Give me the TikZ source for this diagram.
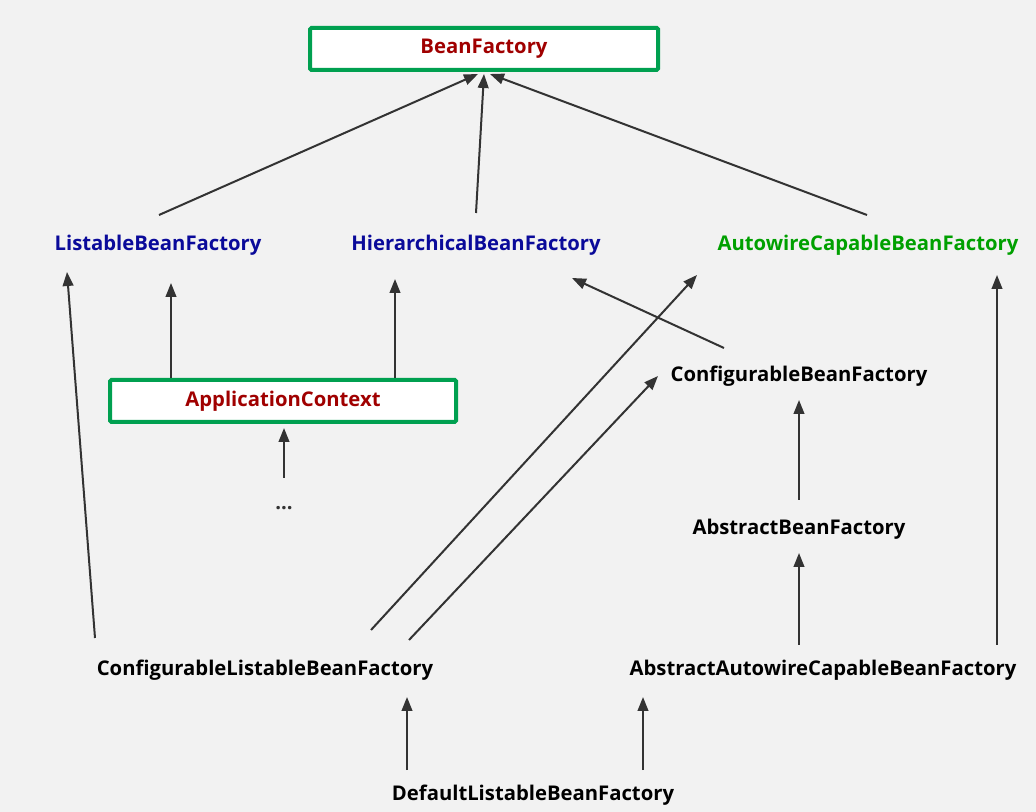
\documentclass[tikz,border=0pt]{standalone}
\usepackage{fontspec}
\setmainfont{Open Sans}
\usetikzlibrary{arrows.meta}
\definecolor{bgray}{HTML}{F2F2F2}
\definecolor{boxgreen}{HTML}{00A050}
\definecolor{clsred}{HTML}{A00000}
\definecolor{ifblue}{HTML}{0A0A9A}
\definecolor{ifgreen}{HTML}{00A000}
\definecolor{arrgray}{HTML}{333333}
\begin{document}
\begin{tikzpicture}[x=.75pt,y=-.75pt,
	cls/.style={font=\bfseries\fontsize{15.2}{18}\selectfont,inner sep=0pt},
	box/.style={cls,draw=boxgreen,line width=3pt,rounded corners=1pt,fill=white,minimum height=31.5pt},
	arr/.style={draw=arrgray,line width=1.5pt,-{Triangle[length=10.5pt,width=8pt]}}]
	\useasboundingbox[fill=bgray] (0,0) rectangle (1036,812);
	% boxes
	\node[box,text=clsred,minimum width=261pt] (bf) at (484,49) {BeanFactory};
	\node[box,text=clsred,minimum width=259.5pt] (ac) at (283,401) {ApplicationContext};
	% interfaces
	\node[cls,text=ifblue] (lbf) at (158,245) {ListableBeanFactory};
	\node[cls,text=ifblue] (hbf) at (476,245) {HierarchicalBeanFactory};
	\node[cls,text=ifgreen] (acbf) at (868,245) {AutowireCapableBeanFactory};
	\node[cls] (cbf) at (799,376) {ConfigurableBeanFactory};
	\node[cls] (abf) at (799,529) {AbstractBeanFactory};
	\node[cls] (clbf) at (265,670) {ConfigurableListableBeanFactory};
	\node[cls] (aacbf) at (823,670) {AbstractAutowireCapableBeanFactory};
	\node[cls] (dlbf) at (533,795) {DefaultListableBeanFactory};
	\node[cls,text=arrgray] (dots) at (284,508) {...};
	% ends of the arrows
	\path (159,215) coordinate (lbf-t) (478,74) coordinate (bf-l)
	(476,213) coordinate (hbf-t) (484,74) coordinate (bf-m)
	(867,215) coordinate (acbf-t) (490,74) coordinate (bf-r)
	(95,638) coordinate (clbf-l) (67,272) coordinate (lbf-b)
	(171,378) coordinate (ac-l) (171,283) coordinate (lbf-c)
	(395,378) coordinate (ac-r) (395,279) coordinate (hbf-c)
	(724,348) coordinate (cbf-t) (572,278) coordinate (hbf-r)
	(371,630) coordinate (clbf-m) (697,275) coordinate (acbf-l)
	(409,640) coordinate (clbf-r) (658,376) coordinate (cbf-l)
	(284,478) coordinate (dots-t) (284,428) coordinate (ac-b)
	(799,500) coordinate (abf-t) (799,400) coordinate (cbf-b)
	(799,645) coordinate (aacbf-m) (799,553) coordinate (abf-b)
	(997,645) coordinate (aacbf-r) (997,275) coordinate (acbf-b)
	(407,770) coordinate (dlbf-l) (407,697) coordinate (clbf-b)
	(643,770) coordinate (dlbf-r) (643,697) coordinate (aacbf-b);
	\foreach \s/\t in {lbf-t/bf-l,hbf-t/bf-m,acbf-t/bf-r,clbf-l/lbf-b,ac-l/lbf-c,ac-r/hbf-c,
		cbf-t/hbf-r,clbf-m/acbf-l,clbf-r/cbf-l,dots-t/ac-b,abf-t/cbf-b,aacbf-m/abf-b,
		aacbf-r/acbf-b,dlbf-l/clbf-b,dlbf-r/aacbf-b}
		\draw[arr] (\s)--(\t);
\end{tikzpicture}
\end{document}
